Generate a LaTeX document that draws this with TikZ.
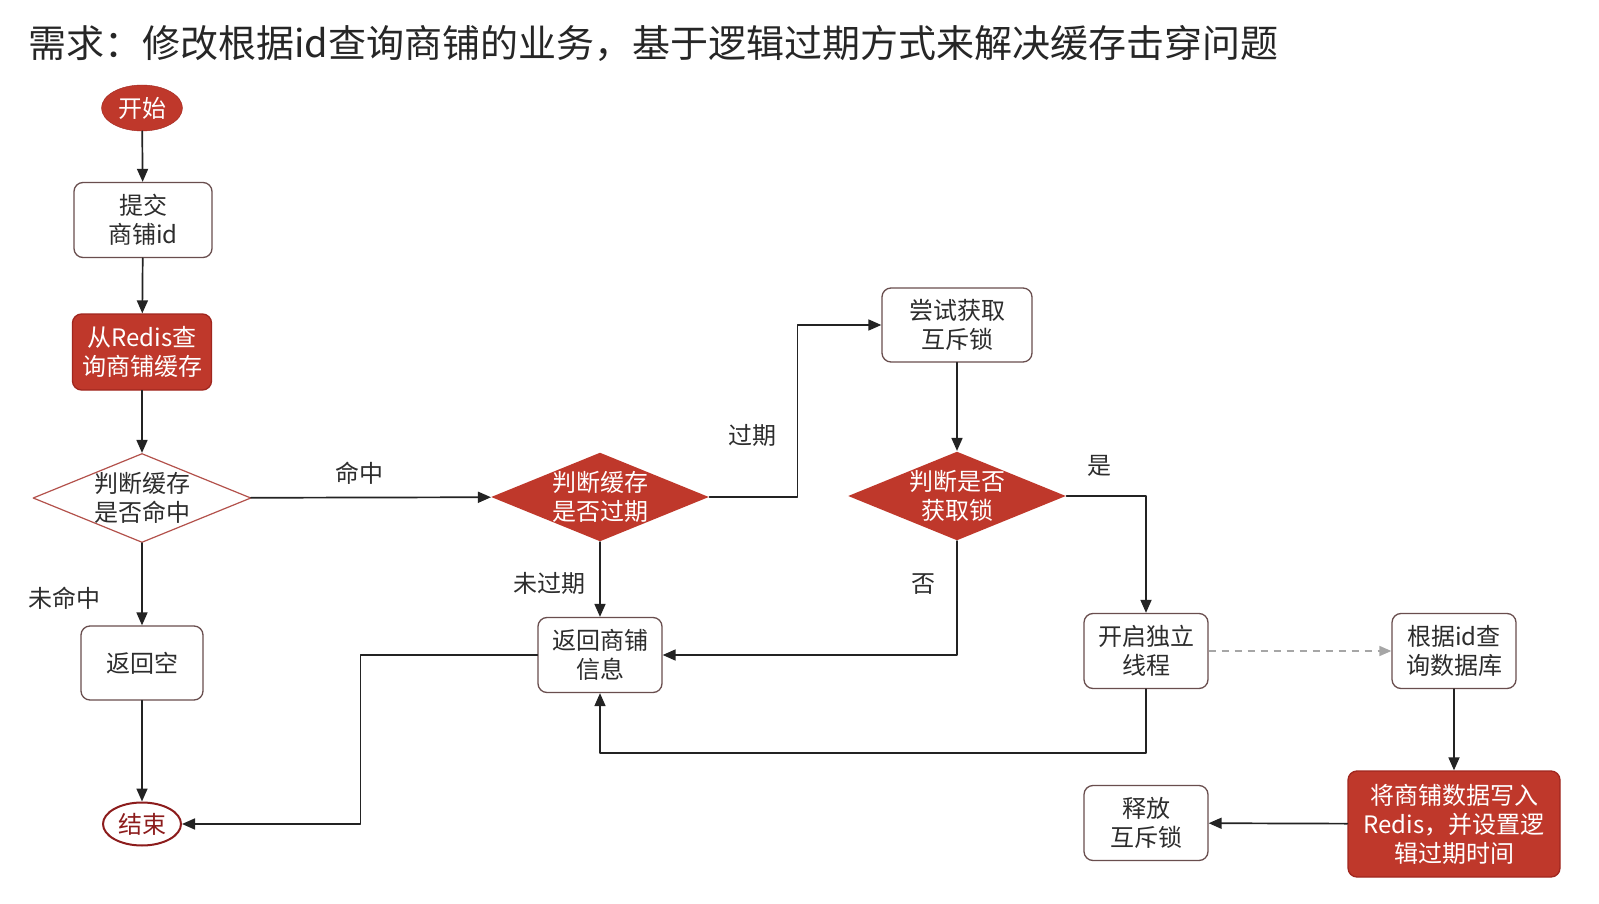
\documentclass[tikz,border=0pt]{standalone}
\usepackage{fontspec}
\setmainfont{Noto Sans CJK SC}
\usetikzlibrary{arrows.meta,positioning,calc,shapes.geometric}
\definecolor{flred}{RGB}{191,56,43}
\definecolor{rededge}{RGB}{160,38,30}
\definecolor{boxedge}{RGB}{105,78,78}
\definecolor{txtgray}{RGB}{45,45,45}
\definecolor{linegray}{RGB}{35,35,35}
\definecolor{endred}{RGB}{140,28,28}

\begin{document}
\begin{tikzpicture}[x=1pt, y=-1pt, line join=round, line cap=round,
  every node/.style={font=\fontsize{24}{29}\selectfont, text=txtgray},
  box/.style={rectangle, rounded corners=9pt, draw=boxedge, line width=1.3pt, fill=white,
    minimum width=124pt, minimum height=75pt, align=center, inner sep=0pt},
  redbox/.style={box, draw=rededge, fill=flred, text=white},
  decide/.style={diamond, aspect=2.45, inner sep=-4pt, minimum width=218pt, minimum height=89pt,
    align=center, line width=1.2pt},
  terminal/.style={ellipse, inner sep=0pt, minimum width=81pt, minimum height=46pt},
  lbl/.style={inner sep=2pt, text=txtgray},
  arr/.style={draw=linegray, line width=1.7pt, -{Triangle[length=13pt,width=11pt]}},
  dasharr/.style={draw=gray!70, line width=1.6pt, dash pattern=on 7pt off 6pt, line cap=butt,
    -{Triangle[length=12pt,width=10pt]}}]
\useasboundingbox (0,0) rectangle (1599,904);
\fill[white] (0,0) rectangle (1599,904);

% title
\node[anchor=west, inner sep=0pt, font=\fontsize{38}{42}\selectfont, text=black!85] (title) at (28,43)
  {需求：修改根据id查询商铺的业务，基于逻辑过期方式来解决缓存击穿问题};

% left column
\node[terminal, fill=flred, draw=rededge, text=white] (start) at (142,108) {开始};
\node[box, minimum width=138pt] (submit) at (143,220) {提交\\商铺id};
\node[redbox, minimum width=139pt, minimum height=76pt] (query) at (142,352) {从Redis查\\询商铺缓存};
\node[decide, draw=rededge!80, fill=white] (hit) at (142,498) {判断缓存\\是否命中};
\node[box, minimum width=122pt, minimum height=74pt] (empty) at (142,663) {返回空};
\node[terminal, draw=endred, line width=2pt, fill=white, text=endred, minimum width=78pt, minimum height=43pt] (stop) at (142,824) {结束};

% middle
\node[decide, fill=flred, text=white] (expire) at (600,497) {判断缓存\\是否过期};
\node[box] (info) at (600,655) {返回商铺\\信息};
\node[box, minimum width=150pt, minimum height=74pt] (lock) at (957,325) {尝试获取\\互斥锁};
\node[decide, fill=flred, text=white] (getlock) at (957,496) {判断是否\\获取锁};

% right side
\node[box] (thread) at (1146,651) {开启独立\\线程};
\node[box] (db) at (1454,651) {根据id查\\询数据库};
\node[redbox, minimum width=212pt, minimum height=106pt] (write) at (1454,824) {将商铺数据写入\\Redis，并设置逻\\辑过期时间};
\node[box] (release) at (1146,823) {释放\\互斥锁};

% connectors
\draw[arr] (start) -- (submit);
\draw[arr] (submit) -- (query);
\draw[arr] (query) -- (hit);
\draw[arr] (hit) -- node[lbl, pos=0.45, above=10pt] (lhit) {命中} (expire);
\draw[arr] (hit) -- node[lbl, pos=0.67, left=39pt] (lmiss) {未命中} (empty);
\draw[arr] (empty) -- (stop);
\draw[arr] (expire) -- node[lbl, pos=0.55, left=12pt] (lfresh) {未过期} (info);
\draw[arr] (expire.east) -- ++(88,0) |- node[lbl, pos=0.18, left=18pt] (lold) {过期} (lock.west);
\draw[arr] (lock) -- (getlock);
\draw[arr] (getlock.east) -| node[lbl, pos=0.21, above=17pt] (lyes) {是} (thread.north);
\draw[arr] (getlock.south) |- node[lbl, pos=0.19, left=19pt] (lno) {否} (info.east);
\draw[arr] (thread.south) -- ++(0,64) -| (info.south);
\draw[arr] (info.west) -- ++(-177,0) |- (stop.east);
\draw[dasharr] (thread) -- (db);
\draw[arr] (db) -- (write);
\draw[arr] (write) -- (release);
\end{tikzpicture}
\end{document}
